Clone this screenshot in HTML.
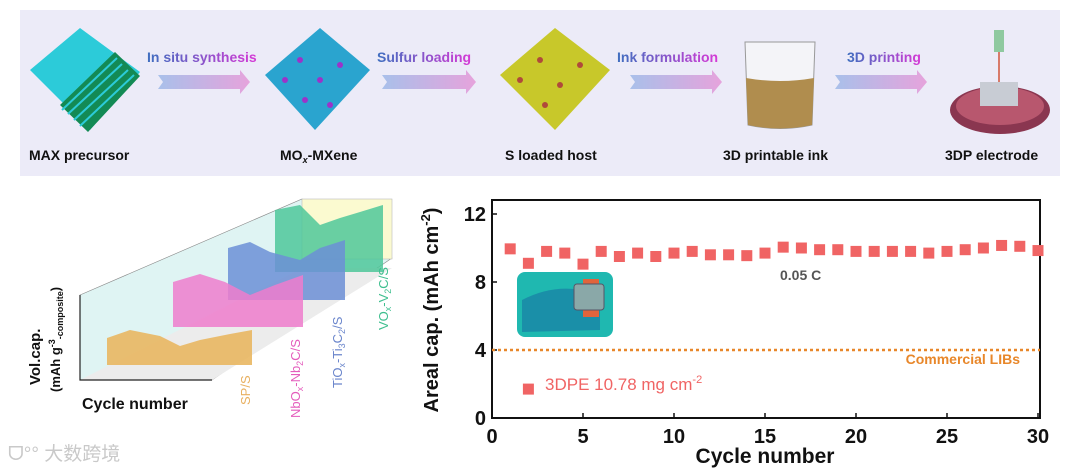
<!DOCTYPE html>
<html><head><meta charset="utf-8"><style>
html,body{margin:0;padding:0;background:#fff;width:1080px;height:470px;overflow:hidden}
svg{display:block;font-family:"Liberation Sans","Noto Sans CJK SC",sans-serif}
</style></head><body>
<svg id="root" width="1080" height="470" viewBox="0 0 1080 470">
<defs>
<linearGradient id="arr" x1="0" x2="1"><stop offset="0" stop-color="#a9c0ea"/><stop offset="1" stop-color="#e6a3dc"/></linearGradient>
<linearGradient id="lbl" x1="0" x2="1"><stop offset="0" stop-color="#3f6fc0"/><stop offset="1" stop-color="#d63ad6"/></linearGradient>
</defs>
<!-- banner -->
<g>
<rect x="20" y="10" width="1040" height="166" fill="#ecebf8"/>
<g>
<polygon points="30,70 80,28 140,72 90,130" fill="#2ccbd9"/>
<polygon points="60,105 115,52 140,76 88,132" fill="#138a55"/>
<polyline points="62,110 117,58 M66,116" stroke="#2ccbd9" stroke-width="2" fill="none"/>
<line x1="68" y1="114" x2="122" y2="64" stroke="#2ccbd9" stroke-width="2"/>
<line x1="74" y1="120" x2="128" y2="70" stroke="#2ccbd9" stroke-width="2"/>
<line x1="80" y1="126" x2="134" y2="75" stroke="#2ccbd9" stroke-width="2"/>
</g>
<g>
<polygon points="265,75 320,28 370,70 315,130" fill="#2aa4cf"/>
<circle cx="300" cy="60" r="3" fill="#9b33c9"/><circle cx="320" cy="80" r="3" fill="#9b33c9"/><circle cx="340" cy="65" r="3" fill="#9b33c9"/><circle cx="305" cy="100" r="3" fill="#9b33c9"/><circle cx="330" cy="105" r="3" fill="#9b33c9"/><circle cx="285" cy="80" r="3" fill="#9b33c9"/>
</g>
<g>
<polygon points="500,75 555,28 610,70 555,130" fill="#c8c82a"/>
<circle cx="540" cy="60" r="3" fill="#b04a3a"/><circle cx="560" cy="85" r="3" fill="#b04a3a"/><circle cx="580" cy="65" r="3" fill="#b04a3a"/><circle cx="545" cy="105" r="3" fill="#b04a3a"/><circle cx="520" cy="80" r="3" fill="#b04a3a"/>
</g>
<g>
<path d="M745,42 L815,42 L812,125 Q780,132 748,125 Z" fill="#f4f4f8" stroke="#999" stroke-width="1"/>
<path d="M746,78 Q780,84 814,78 L812,125 Q780,132 748,125 Z" fill="#b08d4e"/>
</g>
<g>
<ellipse cx="1000" cy="110" rx="50" ry="24" fill="#8a3650"/>
<ellipse cx="1000" cy="106" rx="44" ry="19" fill="#b8576e"/>
<rect x="980" y="82" width="38" height="24" fill="#c8ccd4"/>
<rect x="994" y="30" width="10" height="22" fill="#8fc9a0"/>
<line x1="999" y1="52" x2="999" y2="82" stroke="#d2553a" stroke-width="1.5"/>
</g>
<g>
<polygon points="158,75 240,75 240,70 250,82 240,94 240,89 158,89 163,82" fill="url(#arr)"/>
<polygon points="382,75 466,75 466,70 476,82 466,94 466,89 382,89 387,82" fill="url(#arr)"/>
<polygon points="630,75 712,75 712,70 722,82 712,94 712,89 630,89 635,82" fill="url(#arr)"/>
<polygon points="835,75 917,75 917,70 927,82 917,94 917,89 835,89 840,82" fill="url(#arr)"/>
</g>
<g font-weight="bold" font-size="14">
<text x="147" y="62" fill="url(#lbl)">In situ synthesis</text>
<text x="377" y="62" fill="url(#lbl)">Sulfur loading</text>
<text x="617" y="62" fill="url(#lbl)">Ink formulation</text>
<text x="847" y="62" fill="url(#lbl)">3D printing</text>
</g>
<g font-weight="bold" font-size="14" fill="#111">
<text x="29" y="160">MAX precursor</text>
<text x="280" y="160">MO<tspan font-size="9" dy="3" font-style="italic">x</tspan><tspan dy="-3">-MXene</tspan></text>
<text x="505" y="160">S loaded  host</text>
<text x="723" y="160">3D printable  ink</text>
<text x="945" y="160">3DP electrode</text>
</g>
</g>
<!-- left 3D chart -->
<g>
<polygon points="80,295 302,199 392,258 212,380 80,380" fill="#dff4f3" stroke="#888" stroke-width="0.6"/>
<polygon points="80,380 212,380 392,268 302,268" fill="#ececec"/>
<rect x="302" y="199" width="90" height="60" fill="#fbfad0" stroke="#bbb" stroke-width="0.6"/>
<polygon points="275,210 300,205 320,225 340,218 360,212 383,205 383,272 275,272" fill="#4fc79a" opacity="0.85"/>
<polygon points="228,248 250,242 270,252 300,260 320,248 345,240 345,300 228,300" fill="#6c8fd6" opacity="0.85"/>
<polygon points="173,282 200,274 225,282 250,295 275,285 303,275 303,327 173,327" fill="#ef7dcc" opacity="0.85"/>
<polygon points="107,338 130,330 160,336 180,346 200,340 230,334 252,330 252,365 107,365" fill="#e9b762" opacity="0.9"/>
<polyline points="80,295 80,380 212,380" fill="none" stroke="#222" stroke-width="1.2"/>
<g font-size="13">
<text transform="translate(250,405) rotate(-90)" fill="#e8b060">SP/S</text>
<text transform="translate(300,418) rotate(-90)" fill="#e45cbc">NbO<tspan font-size="9" dy="3">x</tspan><tspan dy="-3">-Nb</tspan><tspan font-size="9" dy="3">2</tspan><tspan dy="-3">C/S</tspan></text>
<text transform="translate(342,388) rotate(-90)" fill="#6b86cc">TiO<tspan font-size="9" dy="3">x</tspan><tspan dy="-3">-Ti</tspan><tspan font-size="9" dy="3">3</tspan><tspan dy="-3">C</tspan><tspan font-size="9" dy="3">2</tspan><tspan dy="-3">/S</tspan></text>
<text transform="translate(388,330) rotate(-90)" fill="#3fbf8f">VO<tspan font-size="9" dy="3">x</tspan><tspan dy="-3">-V</tspan><tspan font-size="9" dy="3">2</tspan><tspan dy="-3">C/S</tspan></text>
</g>
<text transform="translate(40,385) rotate(-90)" font-size="15" font-weight="bold" fill="#111">Vol.cap.</text>
<text transform="translate(60,392) rotate(-90)" font-size="13" font-weight="bold" fill="#111">(mAh g<tspan font-size="9" dy="-5">-3</tspan><tspan font-size="9" dy="8">-composite</tspan><tspan dy="-3">)</tspan></text>
<text x="82" y="409" font-size="16" font-weight="bold" fill="#111">Cycle number</text>
</g>
<text x="8" y="460" font-size="19" fill="#c9c9c9">ᗜ°° 大数跨境</text>
<!-- right chart -->
<g id="chart"></g>
</svg>
<script>
const cycles=[1,2,3,4,5,6,7,8,9,10,11,12,13,14,15,16,17,18,19,20,21,22,23,24,25,26,27,28,29,30];
const capacity=[9.95,9.1,9.8,9.7,9.05,9.8,9.5,9.7,9.5,9.7,9.8,9.6,9.6,9.55,9.7,10.05,10.0,9.9,9.9,9.8,9.8,9.8,9.8,9.7,9.8,9.9,10.0,10.15,10.1,9.85];
const xTicks=[0,5,10,15,20,25,30];
const yTicks=[0,4,8,12];
const commercialLevel=[4];
const NS="http://www.w3.org/2000/svg";
const g=document.getElementById('chart');
const X0=492,X1=1038,Y0=418,YU=17;
const xs=v=>X0+(v/30)*(X1-X0);
const ys=v=>Y0-v*YU;
function mk(t,a){const e=document.createElementNS(NS,t);for(const k in a)e.setAttribute(k,a[k]);g.appendChild(e);return e;}
let box=mk('rect',{x:X0,y:200,width:X1-X0+2,height:Y0-200,fill:'none',stroke:'#111','stroke-width':2});


xTicks.forEach(v=>{
 let t=mk('line',{x1:xs(v),x2:xs(v),y1:Y0,y2:Y0-5,stroke:'#111','stroke-width':1.5});
 
 
 let l=mk('text',{x:xs(v),y:Y0+25,'text-anchor':'middle','font-size':20,'font-weight':'bold',fill:'#111'});
 l.textContent=v;
 
 
});
yTicks.forEach(v=>{
 let t=mk('line',{x1:X0,x2:X0+5,y1:ys(v),y2:ys(v),stroke:'#111','stroke-width':1.5});
 
 
 let l=mk('text',{x:X0-6,y:ys(v)+7,'text-anchor':'end','font-size':20,'font-weight':'bold',fill:'#111'});
 l.textContent=v;
 
 
});
let cl=mk('line',{x1:X0,x2:X1+2,y1:ys(commercialLevel[0]),y2:ys(commercialLevel[0]),stroke:'#e8872a','stroke-width':2.5,'stroke-dasharray':'3,3'});


cycles.forEach((c,i)=>{
 let r=mk('rect',{x:xs(c)-5.5,y:ys(capacity[i])-5.5,width:11,height:11,fill:'#f06464'});
 
 
});
let ph=mk('rect',{x:517,y:272,width:96,height:65,rx:8,fill:'#1fb8b0'});


let ph2=mk('path',{d:'M522,300 Q560,280 600,295 L600,330 L522,332 Z',fill:'#1a8fa8'});


let wb=mk('rect',{x:583,y:279,width:16,height:38,fill:'#e0643c'});


let wf=mk('rect',{x:574,y:284,width:30,height:26,rx:3,fill:'#8aa8a8',stroke:'#556','stroke-width':1});


let lp=mk('rect',{x:xs(2)-5.5,y:ys(1.7)-5.5,width:11,height:11,fill:'#f06464'});


let lt=mk('text',{x:545,y:390,'font-size':17,fill:'#f06464'});
lt.innerHTML='3DPE 10.78 mg cm<tspan font-size="11" dy="-7">-2</tspan>';


let rt=mk('text',{x:780,y:280,'font-size':14,'font-weight':'bold',fill:'#555'});
rt.textContent='0.05 C';


let ct=mk('text',{x:1020,y:364,'text-anchor':'end','font-size':14,'font-weight':'bold',fill:'#e8872a'});
ct.textContent='Commercial LIBs';


let xt=mk('text',{x:765,y:463,'text-anchor':'middle','font-size':21,'font-weight':'bold',fill:'#111'});
xt.textContent='Cycle number';


let yt=mk('text',{transform:'translate(438,310) rotate(-90)','text-anchor':'middle','font-size':20,'font-weight':'bold',fill:'#111'});
yt.innerHTML='Areal cap. (mAh cm<tspan font-size="13" dy="-8">-2</tspan><tspan dy="8">)</tspan>';


</script>
</body></html>
